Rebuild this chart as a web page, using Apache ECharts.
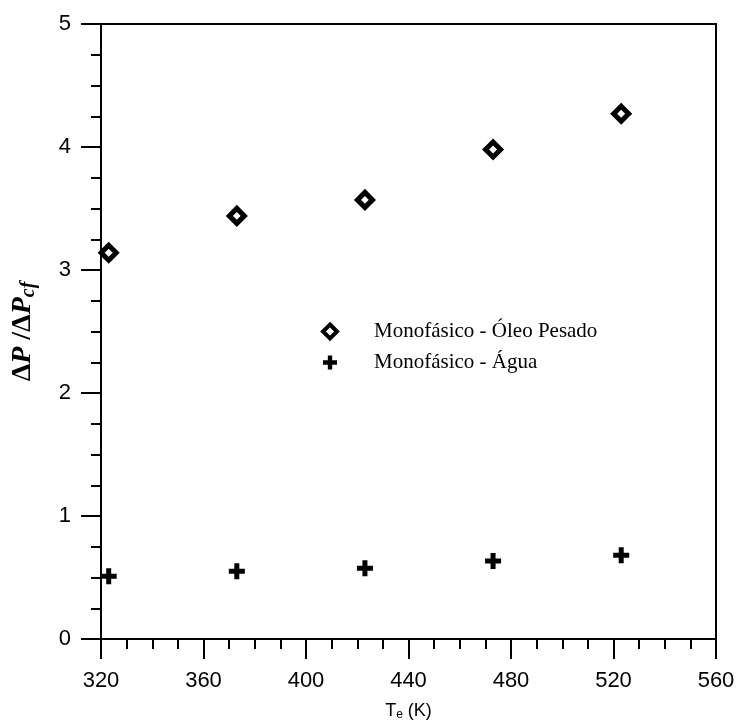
<!DOCTYPE html>
<html>
<head>
<meta charset="utf-8">
<script src="https://cdn.jsdelivr.net/npm/echarts@6/dist/echarts.min.js"></script>
<style>html,body{margin:0;padding:0;background:#fff;}#c{width:738px;height:726px;}</style>
</head>
<body>
<div id="c"></div>
<script>
const temperatures = [323, 373, 423, 473, 523];
const oleoPesado = [3.14, 3.44, 3.57, 3.98, 4.27];
const agua = [0.51, 0.55, 0.575, 0.635, 0.68];
const seriesNames = ['Monofásico - Óleo Pesado', 'Monofásico - Água'];

const plusPath = 'path://M5.5,0 H10.5 V5.5 H16 V10.5 H10.5 V16 H5.5 V10.5 H0 V5.5 H5.5 Z';

const chart = echarts.init(document.getElementById('c'));
chart.setOption({
  backgroundColor: '#fff',
  animation: false,
  grid: { left: 101, right: 22, top: 24, bottom: 86, show: true, borderColor: '#000', borderWidth: 2, backgroundColor: 'transparent' },
  legend: {
    left: 316, top: 316, orient: 'vertical', itemGap: 10,
    itemWidth: 14, itemHeight: 14,
    textStyle: { fontFamily: 'Liberation Serif', fontSize: 21, color: '#000', lineHeight: 20, padding: [0, 0, 0, 32] },
    data: [
      { name: seriesNames[0], icon: 'diamond', itemStyle: { color: '#fff', borderColor: '#000', borderWidth: 4 } },
      { name: seriesNames[1], icon: plusPath, itemStyle: { color: '#000' } }
    ]
  },
  xAxis: {
    type: 'value', min: 320, max: 560, interval: 40,
    name: '{t|T}{s|e}{t| (K)}', nameLocation: 'middle', nameGap: 62,
    nameTextStyle: { rich: { t: { fontFamily: 'Liberation Sans', fontSize: 18, color: '#000' }, s: { fontFamily: 'Liberation Sans', fontSize: 12, color: '#000', verticalAlign: 'bottom', padding: [8, 0, 0, 0] } } },
    axisLine: { lineStyle: { color: '#000', width: 2 } },
    axisTick: { show: true, inside: false, length: 20, lineStyle: { color: '#000', width: 2 } },
    minorTick: { show: true, splitNumber: 4, length: 10, lineStyle: { color: '#000', width: 2 } },
    axisLabel: { fontFamily: 'Liberation Sans', fontSize: 22, color: '#000', margin: 31 },
    splitLine: { show: false }
  },
  yAxis: {
    type: 'value', min: 0, max: 5, interval: 1,
    name: '{d|Δ}{p|P}{d| /Δ}{p|P}{s|cf}', nameLocation: 'middle', nameGap: 62, nameRotate: 90,
    nameTextStyle: { rich: {
      d: { fontFamily: 'Liberation Serif', fontSize: 28, fontWeight: 'bold', color: '#000' },
      p: { fontFamily: 'Liberation Serif', fontSize: 28, fontWeight: 'bold', fontStyle: 'italic', color: '#000' },
      s: { fontFamily: 'Liberation Serif', fontSize: 20, fontWeight: 'bold', fontStyle: 'italic', color: '#000', verticalAlign: 'bottom', padding: [12, 0, 0, 0] }
    } },
    axisLine: { lineStyle: { color: '#000', width: 2 } },
    axisTick: { show: true, inside: false, length: 20, lineStyle: { color: '#000', width: 2 } },
    minorTick: { show: true, splitNumber: 4, length: 10, lineStyle: { color: '#000', width: 2 } },
    axisLabel: { fontFamily: 'Liberation Sans', fontSize: 22, color: '#000', margin: 30 },
    splitLine: { show: false }
  },
  series: [
    {
      name: seriesNames[0], type: 'scatter', symbol: 'diamond', symbolSize: 15,
      itemStyle: { color: '#fff', borderColor: '#000', borderWidth: 5, opacity: 1 },
      data: temperatures.map((t, i) => [t, oleoPesado[i]])
    },
    {
      name: seriesNames[1], type: 'scatter', symbol: plusPath, symbolSize: 16,
      itemStyle: { color: '#000', opacity: 1 },
      data: temperatures.map((t, i) => [t, agua[i]])
    }
  ]
});
</script>
</body>
</html>
